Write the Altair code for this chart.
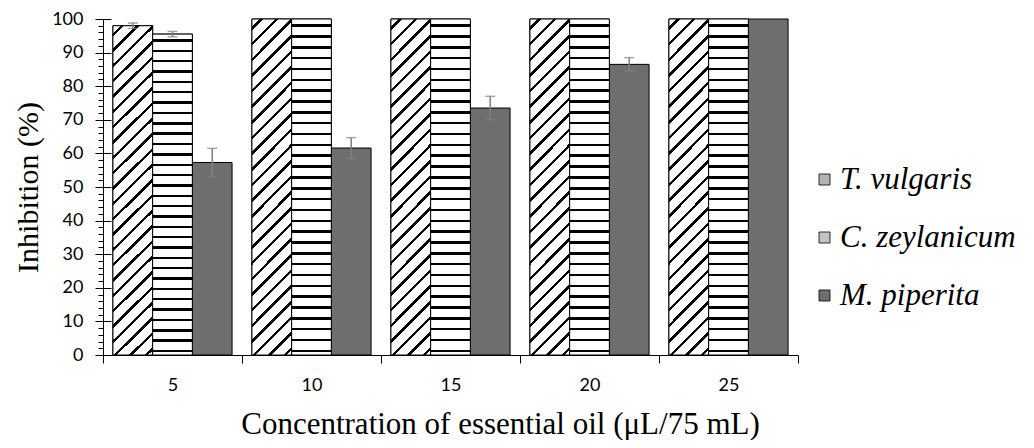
import altair as alt
import pandas as pd

concentrations = ["5", "10", "15", "20", "25"]
species = ["T. vulgaris", "C. zeylanicum", "M. piperita"]
t_vulgaris = [98.0, 100, 100, 100, 100]
c_zeylanicum = [95.5, 100, 100, 100, 100]
m_piperita = [57.3, 61.6, 73.5, 86.5, 100]
t_err = [0.8, 0, 0, 0, 0]
c_err = [0.8, 0, 0, 0, 0]
m_err = [4.2, 3.1, 3.5, 2.0, 0]

rows = []
for s, vals, errs in zip(species, [t_vulgaris, c_zeylanicum, m_piperita], [t_err, c_err, m_err]):
    for c, v, e in zip(concentrations, vals, errs):
        rows.append({"conc": c, "species": s, "value": v, "err": e, "lo": v - e, "hi": v + e})
df = pd.DataFrame(rows)

W, H = 695, 336


def stripes(n, d, x2, y2, shift=0.5):
    stops = []
    for k in range(n):
        a = (k + shift) / n
        b = min(a + d, 1.0)
        if a >= 1:
            break
        stops += [
            alt.GradientStop(offset=round(a, 5), color="white"),
            alt.GradientStop(offset=round(a, 5), color="black"),
            alt.GradientStop(offset=round(b, 5), color="black"),
            alt.GradientStop(offset=round(b, 5), color="white"),
        ]
    stops = [alt.GradientStop(offset=0, color="white")] + stops + [alt.GradientStop(offset=1, color="white")]
    return alt.LinearGradient(gradient="linear", stops=stops, x1=0, y1=0, x2=x2, y2=y2)


# diagonal "/" stripes for T. vulgaris, horizontal stripes for C. zeylanicum
grad_t = stripes(24, 0.0095, 0.131, 1.102)
grad_c = stripes(31, 0.0075, 0, 1)

x_enc = alt.X(
    "conc:N", sort=concentrations,
    scale=alt.Scale(paddingInner=0, paddingOuter=0),
    axis=alt.Axis(title="Concentration of essential oil (μL/75 mL)", labelAngle=0,
                  tickBand="extent", tickSize=8, tickColor="black", domainColor="black",
                  labelFont="Lato", labelFontSize=18, labelColor="black", labelPadding=13,
                  titleFont="Liberation Serif", titleFontSize=31, titleFontWeight="normal",
                  titleColor="black", titlePadding=15, titleX=397, titleAnchor="middle"),
)
xoff = alt.XOffset("species:N", sort=species,
                   scale=alt.Scale(domain=species, paddingInner=0, paddingOuter=0.25))
yscale = alt.Scale(domain=[0, 100], nice=False)

main_axis = alt.Axis(
    title="Inhibition (%)", values=list(range(0, 101, 2)),
    labelExpr="datum.value % 10 === 0 ? datum.label : ''", labelOverlap=False,
    tickSize={"condition": {"test": "datum.value % 10 === 0", "value": 8}, "value": 5},
    tickColor="black", domainColor="black", grid=False,
    labelFont="Lato", labelFontSize=18, labelColor="black", labelPadding=12,
    titleFont="Liberation Serif", titleFontSize=30, titleFontWeight="normal",
    titleColor="black", titlePadding=8,
)

base = alt.Chart(df)

bars = base.mark_bar(stroke="black", strokeWidth=1).encode(
    x=x_enc, xOffset=xoff,
    y=alt.Y("value:Q", scale=yscale, axis=main_axis),
    color=alt.Color("species:N", sort=species,
                    scale=alt.Scale(domain=species, range=["#b4b4b4", "#c4c4c4", "#6e6e6e"]),
                    legend=alt.Legend(title=None, orient="none", legendX=706, legendY=145,
                                      padding=0,
                                      symbolType="square", symbolSize=121,
                                      symbolStrokeColor="black", symbolStrokeWidth=0.8,
                                      labelFont="Liberation Serif", labelFontStyle="italic",
                                      labelFontSize=31, labelColor="black", labelLimit=400,
                                      labelOffset=0, rowPadding=26)),
)

over_t = base.mark_bar(fill=grad_t, stroke="black", strokeWidth=1).encode(
    x=x_enc, xOffset=xoff, y=alt.Y("value:Q", scale=yscale, axis=None),
).transform_filter(alt.datum.species == "T. vulgaris")

over_c = base.mark_bar(fill=grad_c, stroke="black", strokeWidth=1).encode(
    x=x_enc, xOffset=xoff, y=alt.Y("value:Q", scale=yscale, axis=None),
).transform_filter(alt.datum.species == "C. zeylanicum")

err_base = base.transform_filter("datum.err > 0")
err_rule = err_base.mark_rule(color="#808080", strokeWidth=1.5).encode(
    x=x_enc, xOffset=xoff,
    y=alt.Y("lo:Q", scale=yscale, axis=None), y2="hi:Q",
)
err_hi = err_base.mark_tick(color="#808080", thickness=1.5, size=10, orient="horizontal").encode(
    x=x_enc, xOffset=xoff, y=alt.Y("hi:Q", scale=yscale, axis=None),
)
err_lo = err_base.mark_tick(color="#808080", thickness=1.5, size=10, orient="horizontal").encode(
    x=x_enc, xOffset=xoff, y=alt.Y("lo:Q", scale=yscale, axis=None),
)

inner_ticks = base.mark_point(opacity=0).encode(
    x=x_enc, xOffset=xoff,
    y=alt.Y("value:Q", scale=yscale,
            axis=alt.Axis(orient="right", offset=-W, labels=False, domain=False, grid=False,
                          values=list(range(0, 101, 10)), tickSize=8, tickColor="black",
                          title=None)),
)

chart = alt.layer(bars, over_t, over_c, err_rule, err_hi, err_lo, inner_ticks).resolve_axis(
    y="independent"
).properties(
    width=W, height=H,
    padding={"left": 95, "top": 11, "right": 228, "bottom": 85},
    autosize=alt.AutoSizeParams(type="none"),
).configure_view(stroke=None)

chart.save("out.html", embed_options={"renderer": "svg", "actions": False})
